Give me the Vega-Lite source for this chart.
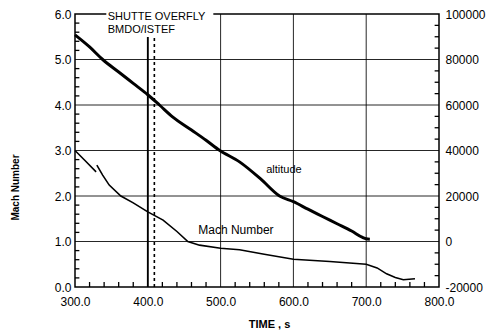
{
  "$schema": "https://vega.github.io/schema/vega-lite/v6.json",
  "width": 364,
  "height": 273,
  "autosize": {"type": "none"},
  "padding": {"left": 75, "top": 14, "right": 48, "bottom": 48},
  "background": "white",
  "config": {
    "font": "Liberation Sans",
    "view": {"stroke": "#000", "strokeWidth": 1.5},
    "axis": {"labelFlush": false}
  },
  "datasets": {
    "mach": [
      {"t": 300, "m": 3.0, "seg": 1},
      {"t": 313, "m": 2.79, "seg": 1},
      {"t": 329, "m": 2.53, "seg": 1},
      {"t": 330, "m": 2.68, "seg": 2},
      {"t": 338, "m": 2.46, "seg": 2},
      {"t": 347, "m": 2.24, "seg": 2},
      {"t": 363, "m": 2.0, "seg": 2},
      {"t": 380, "m": 1.85, "seg": 2},
      {"t": 400, "m": 1.65, "seg": 2},
      {"t": 421, "m": 1.47, "seg": 2},
      {"t": 440, "m": 1.22, "seg": 2},
      {"t": 455, "m": 1.0, "seg": 2},
      {"t": 471, "m": 0.92, "seg": 2},
      {"t": 500, "m": 0.85, "seg": 2},
      {"t": 526, "m": 0.82, "seg": 2},
      {"t": 560, "m": 0.72, "seg": 2},
      {"t": 600, "m": 0.61, "seg": 2},
      {"t": 650, "m": 0.56, "seg": 2},
      {"t": 700, "m": 0.5, "seg": 2},
      {"t": 715, "m": 0.42, "seg": 2},
      {"t": 728, "m": 0.29, "seg": 2},
      {"t": 740, "m": 0.21, "seg": 2},
      {"t": 751, "m": 0.16, "seg": 2},
      {"t": 767, "m": 0.18, "seg": 2}
    ],
    "alt": [
      {"t": 300, "a": 90800},
      {"t": 320, "a": 85500},
      {"t": 338, "a": 80000},
      {"t": 360, "a": 74500},
      {"t": 380, "a": 69500},
      {"t": 400, "a": 64500},
      {"t": 416, "a": 60000},
      {"t": 434, "a": 54800},
      {"t": 460, "a": 49000},
      {"t": 480, "a": 44500},
      {"t": 499, "a": 40000},
      {"t": 526, "a": 35000},
      {"t": 555, "a": 27500},
      {"t": 581, "a": 20000},
      {"t": 600, "a": 17500},
      {"t": 620, "a": 14200},
      {"t": 640, "a": 11000},
      {"t": 660, "a": 7800},
      {"t": 680, "a": 4600},
      {"t": 695, "a": 1800},
      {"t": 700, "a": 1200},
      {"t": 705, "a": 1000}
    ],
    "notes": [{"t": 345, "m": 5.94, "label": "SHUTTE OVERFLY"}, {"t": 345, "m": 5.65, "label": "BMDO/ISTEF"}],
    "gridT": [{"t": 400}, {"t": 500}, {"t": 600}, {"t": 700}],
    "gridM": [{"m": 1}, {"m": 2}, {"m": 3}, {"m": 4}, {"m": 5}],
    "minorT": [{"t": 320}, {"t": 340}, {"t": 360}, {"t": 380}, {"t": 420}, {"t": 440}, {"t": 460}, {"t": 480}, {"t": 520}, {"t": 540}, {"t": 560}, {"t": 580}, {"t": 620}, {"t": 640}, {"t": 660}, {"t": 680}, {"t": 720}, {"t": 740}, {"t": 760}, {"t": 780}],
    "minorM": [{"m": 0.2}, {"m": 0.4}, {"m": 0.6}, {"m": 0.8}, {"m": 1.2}, {"m": 1.4}, {"m": 1.6}, {"m": 1.8}, {"m": 2.2}, {"m": 2.4}, {"m": 2.6}, {"m": 2.8}, {"m": 3.2}, {"m": 3.4}, {"m": 3.6}, {"m": 3.8}, {"m": 4.2}, {"m": 4.4}, {"m": 4.6}, {"m": 4.8}, {"m": 5.2}, {"m": 5.4}, {"m": 5.6}, {"m": 5.8}],
    "minorA": [{"a": -15000}, {"a": -10000}, {"a": -5000}, {"a": 5000}, {"a": 10000}, {"a": 15000}, {"a": 25000}, {"a": 30000}, {"a": 35000}, {"a": 45000}, {"a": 50000}, {"a": 55000}, {"a": 65000}, {"a": 70000}, {"a": 75000}, {"a": 85000}, {"a": 90000}, {"a": 95000}]
  },
  "layer": [
    {
      "data": {"name": "gridT"},
      "mark": {"type": "rule", "color": "#000", "strokeWidth": 1, "opacity": 0.85},
      "encoding": {
        "x": {"field": "t", "type": "quantitative", "scale": {"domain": [300, 800], "nice": false, "zero": false}, "axis": null}
      }
    },
    {
      "data": {"name": "gridM"},
      "mark": {"type": "rule", "color": "#000", "strokeWidth": 1, "opacity": 0.85},
      "encoding": {
        "y": {"field": "m", "type": "quantitative", "scale": {"domain": [0, 6], "nice": false, "zero": false}, "axis": null},
        "x": {"datum": 300, "type": "quantitative", "scale": {"domain": [300, 800], "nice": false, "zero": false}, "axis": null},
        "x2": {"datum": 800}
      }
    },
    {
      "data": {"name": "minorM"},
      "mark": {"type": "rule", "color": "#000", "strokeWidth": 1.3},
      "encoding": {
        "y": {"field": "m", "type": "quantitative", "scale": {"domain": [0, 6], "nice": false, "zero": false}, "axis": null},
        "x": {"datum": 300, "type": "quantitative", "scale": {"domain": [300, 800], "nice": false, "zero": false}, "axis": null},
        "x2": {"datum": 306}
      }
    },
    {
      "data": {"name": "minorA"},
      "mark": {"type": "rule", "color": "#000", "strokeWidth": 1.3},
      "encoding": {
        "y": {"field": "a", "type": "quantitative", "scale": {"domain": [-20000, 100000], "nice": false, "zero": false}, "axis": null},
        "x": {"datum": 794, "type": "quantitative", "scale": {"domain": [300, 800], "nice": false, "zero": false}, "axis": null},
        "x2": {"datum": 800}
      }
    },
    {
      "data": {"name": "minorT"},
      "mark": {"type": "rule", "color": "#000", "strokeWidth": 1.3},
      "encoding": {
        "x": {"field": "t", "type": "quantitative", "scale": {"domain": [300, 800], "nice": false, "zero": false}, "axis": null},
        "y": {"datum": 0, "type": "quantitative", "scale": {"domain": [0, 6], "nice": false, "zero": false}, "axis": null},
        "y2": {"datum": 0.11}
      }
    },
    {
      "data": {"values": [{"t": 400}]},
      "mark": {"type": "rule", "color": "#000", "strokeWidth": 1.8},
      "encoding": {
        "x": {"field": "t", "type": "quantitative", "scale": {"domain": [300, 800], "nice": false, "zero": false}, "axis": null}
      }
    },
    {
      "data": {"values": [{"t": 409}]},
      "mark": {"type": "rule", "color": "#000", "strokeWidth": 1.6, "strokeDash": [3, 3]},
      "encoding": {
        "x": {"field": "t", "type": "quantitative", "scale": {"domain": [300, 800], "nice": false, "zero": false}, "axis": null}
      }
    },
    {
      "data": {"name": "alt"},
      "mark": {"type": "line", "color": "#000", "strokeWidth": 3, "interpolate": "monotone"},
      "encoding": {
        "x": {"field": "t", "type": "quantitative", "scale": {"domain": [300, 800], "nice": false, "zero": false}, "axis": null},
        "y": {"field": "a", "type": "quantitative", "scale": {"domain": [-20000, 100000], "nice": false, "zero": false},
          "axis": {"orient": "right", "values": [-20000, 0, 20000, 40000, 60000, 80000, 100000], "labelExpr": "'' + datum.value", "labelFontSize": 12, "labelPadding": 6, "labelColor": "#000", "ticks": false, "grid": false, "domain": false, "title": null}}
      }
    },
    {
      "data": {"name": "mach"},
      "mark": {"type": "line", "color": "#000", "strokeWidth": 1.6},
      "encoding": {
        "x": {"field": "t", "type": "quantitative", "scale": {"domain": [300, 800], "nice": false, "zero": false},
          "axis": {"orient": "bottom", "values": [300, 400, 500, 600, 700, 800], "format": ".1f", "labelFontSize": 12, "labelPadding": 9, "labelColor": "#000", "ticks": false, "grid": false, "domain": false, "title": "TIME , s", "titleColor": "#000", "titleFontSize": 11, "titleFontWeight": "bold", "titleX": 194, "titleY": 37, "titleBaseline": "middle", "titleAlign": "center"}},
        "y": {"field": "m", "type": "quantitative", "scale": {"domain": [0, 6], "nice": false, "zero": false},
          "axis": {"orient": "left", "values": [0, 1, 2, 3, 4, 5, 6], "format": ".1f", "labelFontSize": 12, "labelPadding": 4, "labelColor": "#000", "ticks": false, "grid": false, "domain": false, "title": "Mach Number", "titleColor": "#000", "titleFontSize": 10, "titleFontWeight": "bold", "titleAngle": -90, "titleX": -60, "titleY": 173, "titleBaseline": "middle", "titleAlign": "center"}},
        "detail": {"field": "seg", "type": "nominal"}
      }
    },
    {
      "data": {"name": "notes"},
      "mark": {"type": "rule", "color": "#ffffff", "strokeWidth": 14},
      "encoding": {
        "y": {"field": "m", "type": "quantitative", "scale": {"domain": [0, 6], "nice": false, "zero": false}, "axis": null},
        "x": {"datum": 343, "type": "quantitative", "scale": {"domain": [300, 800], "nice": false, "zero": false}, "axis": null},
        "x2": {"datum": 490}
      }
    },
    {
      "data": {"values": [{"t": 521, "m": 1.26, "label": "Mach Number"}]},
      "mark": {"type": "text", "color": "#000", "fontSize": 12, "align": "center", "baseline": "middle"},
      "encoding": {
        "x": {"field": "t", "type": "quantitative", "scale": {"domain": [300, 800], "nice": false, "zero": false}, "axis": null},
        "y": {"field": "m", "type": "quantitative", "scale": {"domain": [0, 6], "nice": false, "zero": false}, "axis": null},
        "text": {"field": "label"}
      }
    },
    {
      "data": {"values": [{"t": 587, "a": 31400, "label": "altitude"}]},
      "mark": {"type": "text", "color": "#000", "fontSize": 11, "align": "center", "baseline": "middle"},
      "encoding": {
        "x": {"field": "t", "type": "quantitative", "scale": {"domain": [300, 800], "nice": false, "zero": false}, "axis": null},
        "y": {"field": "a", "type": "quantitative", "scale": {"domain": [-20000, 100000], "nice": false, "zero": false}, "axis": null},
        "text": {"field": "label"}
      }
    },
    {
      "data": {"name": "notes"},
      "mark": {"type": "text", "color": "#000", "fontSize": 11, "align": "left", "baseline": "middle"},
      "encoding": {
        "x": {"field": "t", "type": "quantitative", "scale": {"domain": [300, 800], "nice": false, "zero": false}, "axis": null},
        "y": {"field": "m", "type": "quantitative", "scale": {"domain": [0, 6], "nice": false, "zero": false}, "axis": null},
        "text": {"field": "label"}
      }
    }
  ],
  "resolve": {"scale": {"x": "independent", "y": "independent"}, "axis": {"x": "independent", "y": "independent"}}
}
